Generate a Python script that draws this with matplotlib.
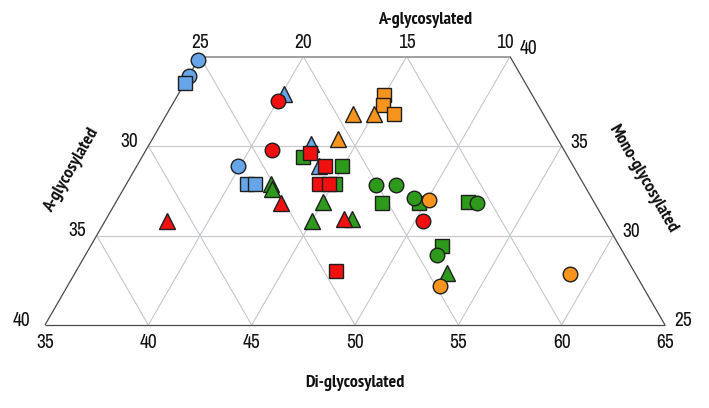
#!/usr/bin/env python3
"""Diagrama ternario (recortado) de formas glicosiladas."""

import matplotlib

matplotlib.use("Agg")
import matplotlib.pyplot as plt
import numpy as np
from matplotlib import font_manager

# datos: (Di-glycosylated, Mono-glycosylated); A = 100 - Di - Mono
# tipo: c = circulo, s = cuadrado, t = triangulo
BLUE_DI = [35.0, 35.0, 35.0, 40.1, 42.8, 43.8, 39.9, 40.8, 41.2]
BLUE_MONO = [39.8, 38.9, 38.5, 37.9, 35.1, 33.9, 33.9, 32.9, 32.9]
BLUE_KIND = ["c", "c", "s", "t", "t", "t", "c", "s", "s"]

GREEN_DI = [42.8, 44.9, 45.1, 42.0, 42.2, 45.0, 45.0, 46.9, 47.1, 48.1,
            47.9, 49.7, 49.3, 52.0, 52.5, 52.0, 52.0, 53.0]
GREEN_MONO = [34.4, 33.9, 32.9, 32.9, 32.6, 31.9, 30.8, 30.9, 32.8, 32.8,
              31.8, 31.8, 32.1, 31.9, 31.8, 29.4, 28.9, 27.9]
GREEN_KIND = ["s", "s", "s", "t", "t", "t", "t", "t", "c", "c",
              "s", "s", "c", "s", "c", "s", "c", "t"]

RED_DI = [40.0, 41.1, 43.0, 44.1, 44.3, 44.8, 43.0, 38.0, 46.5, 50.4, 47.6]
RED_MONO = [37.5, 34.8, 34.6, 33.9, 32.9, 32.9, 31.8, 30.8, 30.9, 30.8, 28.0]
RED_KIND = ["c", "c", "s", "s", "s", "s", "t", "t", "t", "c", "s"]

ORANGE_DI = [45.0, 45.2, 46.0, 44.0, 45.0, 44.0, 50.1, 53.0, 59.0]
ORANGE_MONO = [37.85, 37.3, 36.8, 36.8, 36.8, 35.4, 32.0, 27.2, 27.85]
ORANGE_KIND = ["s", "s", "s", "t", "t", "t", "c", "c", "c"]

DI_TICKS = [35, 40, 45, 50, 55, 60, 65]
A_TOP_TICKS = [25, 20, 15, 10]
A_LEFT_TICKS = [40, 35, 30]
MONO_TICKS = [40, 35, 30, 25]

MONO_MIN, MONO_MAX = 25, 40
DI_MIN = 35
A_MIN = 10

MARKERS = {"c": ("o", 10.5), "s": ("s", 10.5), "t": ("^", 11.5)}
EDGE = "#1e1e1e"
GRID = "#c4c8cc"
PX = 0.72  # puntos por pixel a 100 dpi


def is_bold(f):
    return f.weight in ("bold", 700, "700") or str(f.weight) == "700"


def pick_fonts():
    """Fuente estrecha para los números; negrita para los títulos."""
    fonts = font_manager.fontManager.ttflist
    narrow = [f for f in fonts if "Narrow" in f.name]
    tick = (dict(family="DejaVu Sans"), 10.5)
    title = (dict(family="DejaVu Sans"), 10)
    if narrow:
        tick = (dict(family=narrow[0].name), 14)
        bold = [f for f in narrow if is_bold(f)]
        if bold:
            title = (dict(family=bold[0].name), 13)
    return tick, title


(TICK_FONT, TICK_SIZE), (TITLE_FONT, TITLE_SIZE) = pick_fonts()


def tern(di, mono):
    di = np.asarray(di, dtype=float)
    mono = np.asarray(mono, dtype=float)
    return di + mono / 2.0, (mono - MONO_MIN) * np.sqrt(3) / 2.0


def seg(ax, p0, p1, **kw):
    x0, y0 = tern(*p0)
    x1, y1 = tern(*p1)
    ax.plot([x0, x1], [y0, y1], solid_capstyle="butt", **kw)


def draw_frame(ax):
    grid = dict(color=GRID, lw=0.8, zorder=1)
    # horizontales (Mono constante)
    for m in (30, 35):
        seg(ax, (DI_MIN, m), (100 - A_MIN - m, m), **grid)
    # Di constante
    for d in (40, 45, 50, 55, 60):
        top = min(MONO_MAX, 100 - A_MIN - d)
        seg(ax, (d, MONO_MIN), (d, top), **grid)
    # A constante
    for a in (35, 30, 25, 20, 15):
        d0 = 100 - a - MONO_MIN
        m1 = min(MONO_MAX, 100 - a - DI_MIN)
        seg(ax, (d0, MONO_MIN), (100 - a - m1, m1), **grid)

    edge = dict(color="#4a4a4a", lw=0.9, zorder=2)
    seg(ax, (DI_MIN, MONO_MIN), (100 - A_MIN - MONO_MIN, MONO_MIN), **edge)
    seg(ax, (DI_MIN, MONO_MIN), (DI_MIN, MONO_MAX), **edge)
    seg(ax, (100 - A_MIN - MONO_MIN, MONO_MIN),
        (100 - A_MIN - MONO_MAX, MONO_MAX), **edge)
    seg(ax, (DI_MIN, MONO_MAX), (100 - A_MIN - MONO_MAX, MONO_MAX),
        color="#a0a0a0", lw=1.4, zorder=2)


def label(ax, di, mono, text, dx, dy):
    x, y = tern(di, mono)
    ax.annotate(text, (x, y), xytext=(dx * PX, dy * PX),
                textcoords="offset points", ha="center", va="center",
                fontsize=TICK_SIZE, color="#111111", **TICK_FONT)


def draw_ticks(ax):
    for d in DI_TICKS:
        label(ax, d, MONO_MIN, str(d), 0, -17)
    for a in A_TOP_TICKS:
        dx = -5 if a == A_MIN else 0
        label(ax, 100 - MONO_MAX - a, MONO_MAX, str(a), dx, 14)
    for a in A_LEFT_TICKS:
        dx = -24 if a == 40 else -19
        label(ax, DI_MIN, 100 - DI_MIN - a, str(a), dx, 5)
    for m in MONO_TICKS:
        dy = 8 if m == MONO_MAX else 4
        label(ax, 100 - A_MIN - m, m, str(m), 18, dy)


def draw_points(ax, di, mono, kind, color):
    x, y = tern(di, mono)
    for xi, yi, k in zip(x, y, kind):
        marker, size = MARKERS[k]
        ax.plot(xi, yi, marker=marker, ms=size, mfc=color, mec=EDGE,
                mew=1.0, ls="none", zorder=3)


def main():
    fig = plt.figure(figsize=(7.09, 4.08), dpi=100)
    ax = fig.add_axes([0, 0, 1, 1])
    scale = 620 / 30.0
    ax.set_xlim(47.5 - 45 / scale, 47.5 + 664 / scale)
    ax.set_ylim(-83 / scale, 325 / scale)
    ax.axis("off")

    draw_frame(ax)
    draw_points(ax, BLUE_DI, BLUE_MONO, BLUE_KIND, "#66a6e8")
    draw_points(ax, GREEN_DI, GREEN_MONO, GREEN_KIND, "#2e9a1c")
    draw_points(ax, RED_DI, RED_MONO, RED_KIND, "#f01010")
    draw_points(ax, ORANGE_DI, ORANGE_MONO, ORANGE_KIND, "#f7941d")
    draw_ticks(ax)

    title = dict(fontsize=TITLE_SIZE, fontweight="bold", ha="center",
                 va="center", color="#111111", **TITLE_FONT)
    fig.text(425 / 709, 1 - 20 / 408, "A-glycosylated", **title)
    fig.text(355 / 709, 1 - 383 / 408, "Di-glycosylated", **title)
    fig.text(72 / 709, 1 - 170 / 408, "A-glycosylated", rotation=60,
             rotation_mode="anchor", **title)
    fig.text(643 / 709, 1 - 179 / 408, "Mono-glycosylated", rotation=-60,
             rotation_mode="anchor", **title)

    fig.savefig("out.png", dpi=100)


if __name__ == "__main__":
    main()
